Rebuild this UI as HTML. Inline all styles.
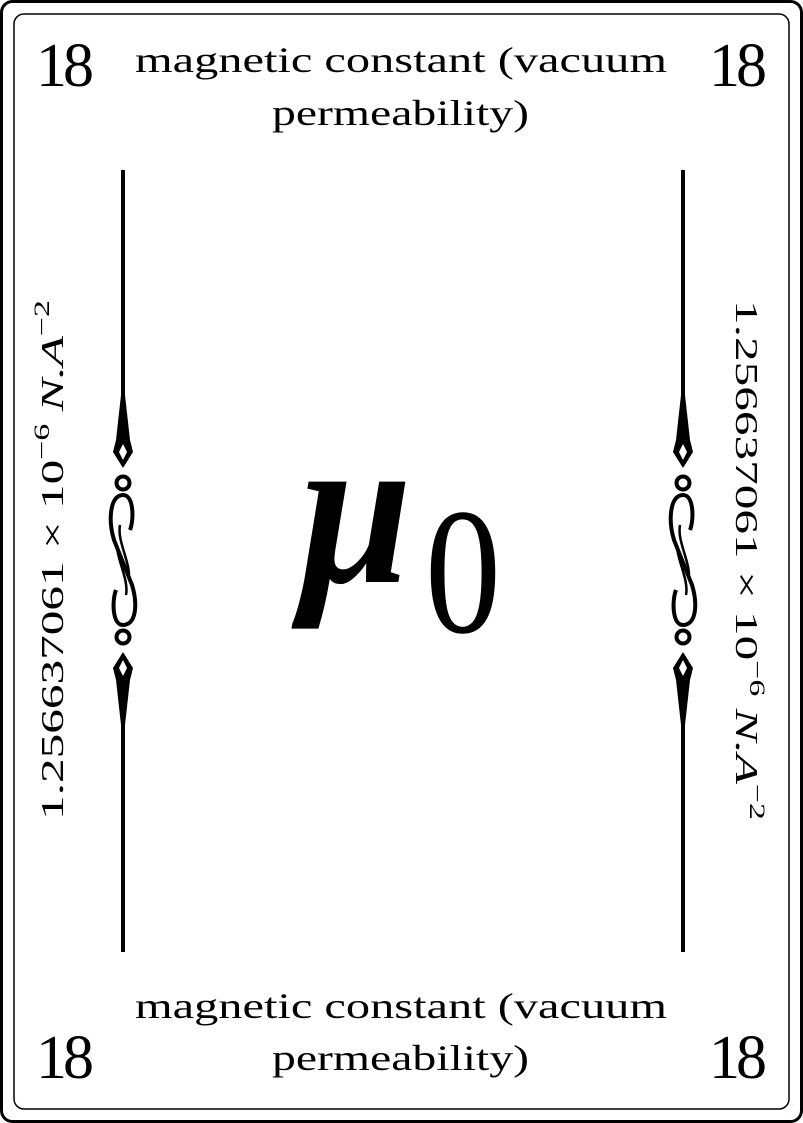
<!DOCTYPE html>
<html><head><meta charset="utf-8"><style>
html,body{margin:0;padding:0;background:#fff}
svg{display:block}
text{font-family:"Liberation Serif","DejaVu Serif",serif;fill:#000}
</style></head><body>
<svg width="803" height="1123" viewBox="0 0 803 1123">
<rect x="1.5" y="1.5" width="800" height="1120" rx="11" fill="#fff" stroke="#000" stroke-width="3"/>
<rect x="14" y="14" width="775" height="1095" rx="10" fill="none" stroke="#000" stroke-width="1.5"/>

<text x="36" y="86" font-size="62" textLength="58">18</text>
<text x="709" y="86" font-size="62" textLength="58">18</text>
<text x="36" y="1078" font-size="62" textLength="58">18</text>
<text x="709" y="1078" font-size="62" textLength="58">18</text>

<g>
<text x="135" y="72" font-size="36" textLength="532" lengthAdjust="spacingAndGlyphs">magnetic constant (vacuum</text>
<text x="272" y="125" font-size="36" textLength="257" lengthAdjust="spacingAndGlyphs">permeability)</text>
</g>
<g>
<text x="135" y="1018" font-size="36" textLength="532" lengthAdjust="spacingAndGlyphs">magnetic constant (vacuum</text>
<text x="272" y="1070" font-size="36" textLength="257" lengthAdjust="spacingAndGlyphs">permeability)</text>
</g>

<text x="0" y="0" font-size="32" textLength="520" lengthAdjust="spacingAndGlyphs" transform="translate(63,820) rotate(-90)">1.256637061 × 10<tspan font-size="22" dy="-14">−6</tspan><tspan dy="14"> </tspan><tspan font-style="italic">N.A</tspan><tspan font-size="22" dy="-14">−2</tspan></text>
<text x="0" y="0" font-size="32" textLength="520" lengthAdjust="spacingAndGlyphs" transform="translate(736,300) rotate(90)">1.256637061 × 10<tspan font-size="22" dy="-14">−6</tspan><tspan dy="14"> </tspan><tspan font-style="italic">N.A</tspan><tspan font-size="22" dy="-14">−2</tspan></text>

<defs>
<g id="orn">
<line x1="0" y1="170" x2="0" y2="400" stroke="#000" stroke-width="4"/>
<line x1="0" y1="720" x2="0" y2="952" stroke="#000" stroke-width="4"/>
<path d="M-2,395 L-7,440 L-10,452 L0,468 L10,452 L7,440 L2,395Z" fill="#000"/>
<path d="M-2,725 L-7,680 L-10,668 L0,652 L10,668 L7,680 L2,725Z" fill="#000"/>
<path d="M-4,452 L0,460 L4,452 L0,444Z" fill="#fff"/>
<path d="M-4,668 L0,660 L4,668 L0,676Z" fill="#fff"/>
<circle cx="0" cy="483" r="6.5" fill="none" stroke="#000" stroke-width="4"/>
<circle cx="0" cy="637" r="6.5" fill="none" stroke="#000" stroke-width="4"/>
<path d="M7,530 C11,520 11,495 0,495 C-13,495 -15,520 -9,540 L9,585 C15,605 13,625 0,625 C-11,625 -11,600 -7,590" fill="none" stroke="#000" stroke-width="4"/>
<path d="M-3,525 C-6,540 6,560 6,575 M3,595 C6,580 -6,560 -6,545" fill="none" stroke="#000" stroke-width="2.5"/>
</g>
</defs>
<use href="#orn" x="123"/>
<use href="#orn" x="683"/>

<g>
<text x="0" y="0" font-size="175" font-style="italic" font-weight="bold" transform="translate(300,582) scale(1.15,1.25)">μ</text>
<text x="425" y="632" font-size="180" textLength="76" lengthAdjust="spacingAndGlyphs">0</text>
</g>
</svg>
</body></html>
